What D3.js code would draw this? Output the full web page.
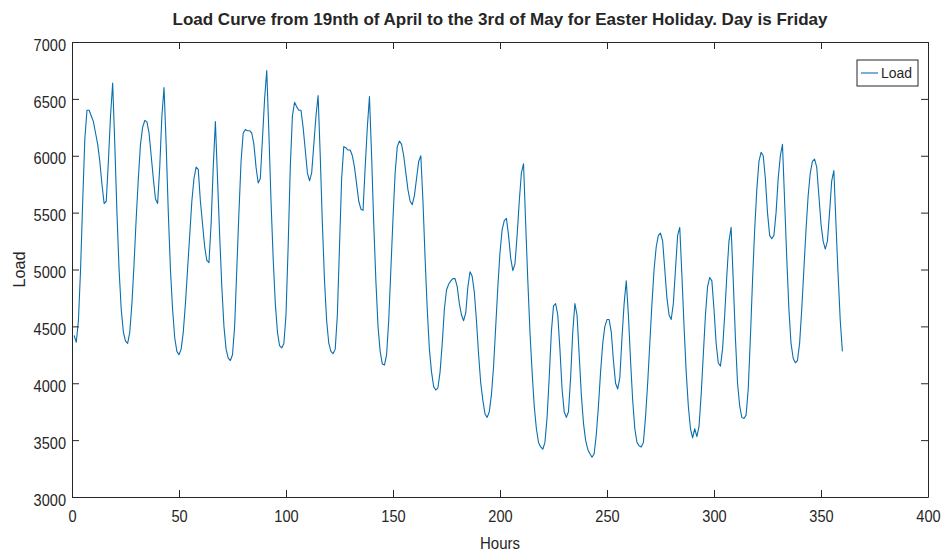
<!DOCTYPE html>
<html>
<head>
<meta charset="utf-8">
<script src="https://cdn.jsdelivr.net/npm/d3@7"></script>
<style>
  html, body { margin: 0; padding: 0; background: #fff; }
  svg { display: block; }
  text { font-family: "Liberation Sans", Arial, Helvetica, sans-serif; fill: #262626; }
</style>
</head>
<body>
<svg id="chart" width="942" height="553"></svg>
<script>
// ---- data (hourly load, hour 1..360) ----
const load = [
  4420,4360,4550,5000,5600,6150,6400,6400,6350,6300,6200,6100,5950,5750,5580,5600,5950,6350,6640,6100,5500,5000,4650,4450,
  4370,4350,4450,4700,5050,5450,5800,6100,6250,6310,6300,6200,6000,5800,5620,5580,5900,6350,6600,6100,5500,5000,4650,4400,
  4280,4250,4300,4450,4700,5000,5300,5600,5800,5900,5880,5600,5400,5200,5080,5060,5400,5900,6300,5800,5300,4850,4500,4300,
  4220,4200,4250,4500,5000,5500,5950,6200,6230,6220,6220,6200,6100,5900,5760,5800,6150,6500,6750,6200,5600,5100,4700,4450,
  4330,4310,4350,4600,5200,5900,6350,6470,6430,6400,6400,6250,6050,5850,5780,5850,6100,6350,6530,6000,5400,4900,4550,4350,
  4280,4260,4300,4600,5200,5800,6080,6070,6050,6050,6000,5900,5750,5600,5530,5520,5900,6250,6520,6000,5400,4900,4500,4280,
  4170,4160,4250,4550,5000,5450,5850,6080,6130,6100,6000,5850,5700,5600,5570,5650,5800,5950,6000,5600,5100,4650,4300,4100,
  3970,3940,3960,4100,4350,4650,4820,4870,4900,4920,4920,4850,4700,4600,4550,4620,4850,4980,4940,4800,4550,4250,4000,3850,
  3730,3700,3750,3900,4150,4500,4850,5150,5350,5430,5450,5300,5100,4990,5050,5300,5600,5850,5930,5400,4900,4450,4100,3800,
  3600,3480,3440,3420,3480,3700,4050,4450,4680,4700,4600,4300,3950,3750,3700,3750,4050,4450,4700,4600,4250,3900,3650,3500,
  3420,3380,3350,3380,3550,3800,4100,4350,4500,4560,4560,4450,4200,4000,3950,4050,4400,4700,4900,4600,4200,3850,3600,3480,
  3450,3440,3480,3700,4000,4350,4700,5000,5200,5300,5320,5250,5000,4750,4600,4560,4700,5000,5300,5370,4950,4500,4100,3800,
  3600,3520,3600,3530,3620,3900,4250,4600,4850,4930,4900,4650,4350,4180,4150,4300,4600,4950,5250,5370,4900,4400,4000,3800,
  3700,3690,3720,3950,4400,4900,5350,5700,5950,6030,6000,5800,5500,5300,5270,5300,5500,5800,6000,6100,5600,5100,4650,4350,
  4220,4180,4200,4350,4650,5000,5350,5650,5850,5950,5970,5900,5650,5400,5250,5180,5250,5500,5780,5870,5400,4950,4550,4280
];
const xTicks = [0, 50, 100, 150, 200, 250, 300, 350, 400];
const yTicks = [3000, 3500, 4000, 4500, 5000, 5500, 6000, 6500, 7000];
const seriesName = "Load";
const titleText = "Load Curve from 19nth of April to the 3rd of May for Easter Holiday. Day is Friday";
const xLabel = "Hours";
const yLabel = "Load";

// ---- layout ----
const L = 72, R = 928, T = 42, B = 497;
const svg = d3.select("#chart");
const x = d3.scaleLinear().domain([0, 400]).range([L, R]);
const y = d3.scaleLinear().domain([3000, 7000]).range([B, T]);
const axisColor = "#262626";
const labelColor = "#3a3a3a";
const tick = 7;

// line
const line = d3.line().x((d, i) => x(i + 1)).y(d => y(d));
svg.append("path")
  .datum(load)
  .attr("fill", "none")
  .attr("stroke", "#0a6fae")
  .attr("stroke-width", 1.1)
  .attr("stroke-linejoin", "round")
  .attr("d", line);

// axes (MATLAB style: box, inward ticks), condensed tick labels
function styleAxis(g) {
  g.selectAll(".domain").attr("stroke", axisColor).attr("stroke-width", 1);
  g.selectAll(".tick line").attr("stroke", axisColor).attr("stroke-width", 1);
  g.selectAll(".tick text")
    .attr("fill", labelColor)
    .style("font-size", "16px")
    .attr("lengthAdjust", "spacingAndGlyphs")
    .attr("textLength", function () { return this.textContent.length * 8.1; });
}
svg.append("g").attr("transform", `translate(0,${B})`)
  .call(d3.axisBottom(x).tickValues(xTicks).tickSizeInner(-tick).tickSizeOuter(0).tickPadding(14).tickFormat(d3.format("d")))
  .call(styleAxis);
svg.append("g").attr("transform", `translate(0,${T})`)
  .call(d3.axisTop(x).tickValues(xTicks).tickSizeInner(-tick).tickSizeOuter(0).tickFormat(""))
  .call(styleAxis);
svg.append("g").attr("transform", `translate(${L},0)`)
  .call(d3.axisLeft(y).tickValues(yTicks).tickSizeInner(-tick).tickSizeOuter(0).tickPadding(6).tickFormat(d3.format("d")))
  .call(styleAxis)
  .call(g => g.selectAll(".tick text").attr("transform", "translate(0,3)"));
svg.append("g").attr("transform", `translate(${R},0)`)
  .call(d3.axisRight(y).tickValues(yTicks).tickSizeInner(-tick).tickSizeOuter(0).tickFormat(""))
  .call(styleAxis);

// title
svg.append("text")
  .attr("x", (L + R) / 2).attr("y", 25)
  .attr("text-anchor", "middle")
  .style("font-size", "17px").style("font-weight", "bold")
  .attr("textLength", 655).attr("lengthAdjust", "spacingAndGlyphs")
  .text(titleText);

// axis labels
svg.append("text")
  .attr("x", (L + R) / 2).attr("y", 549)
  .attr("text-anchor", "middle")
  .attr("fill", labelColor)
  .style("font-size", "17px")
  .attr("textLength", 40).attr("lengthAdjust", "spacingAndGlyphs")
  .text(xLabel);
svg.append("text")
  .attr("transform", `translate(25,${(T + B) / 2}) rotate(-90)`)
  .attr("text-anchor", "middle")
  .attr("fill", labelColor)
  .style("font-size", "17px")
  .attr("textLength", 36).attr("lengthAdjust", "spacingAndGlyphs")
  .text(yLabel);

// legend
const lg = svg.append("g");
lg.append("rect").attr("x", 857).attr("y", 60).attr("width", 61).attr("height", 26)
  .attr("fill", "#fff").attr("stroke", axisColor).attr("stroke-width", 1);
lg.append("line").attr("x1", 861).attr("x2", 878).attr("y1", 73).attr("y2", 73)
  .attr("stroke", "#0a6fae").attr("stroke-width", 1.1);
lg.append("text").attr("x", 881).attr("y", 78).style("font-size", "14px")
  .attr("textLength", 31).attr("lengthAdjust", "spacingAndGlyphs").text(seriesName);
</script>
</body>
</html>
